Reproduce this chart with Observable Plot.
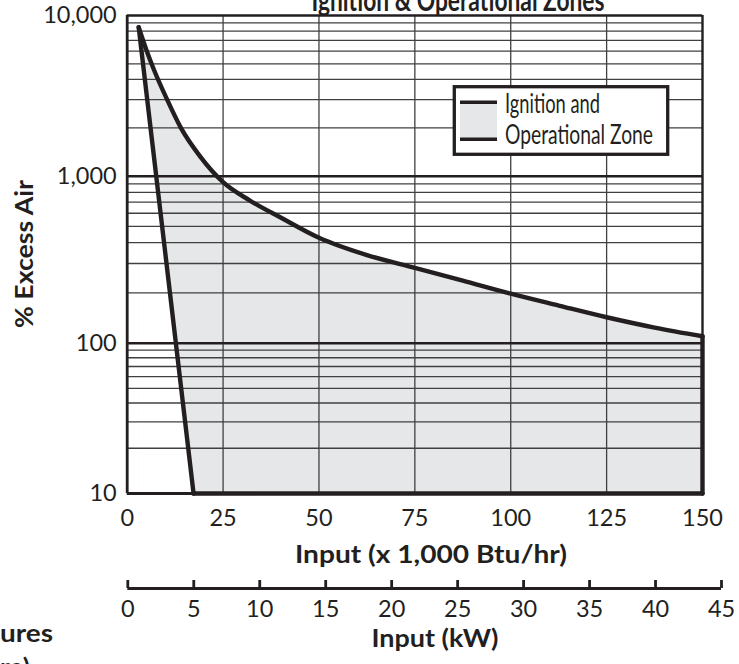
<!DOCTYPE html>
<html>
<head>
<meta charset="utf-8">
<script src="https://cdn.jsdelivr.net/npm/d3@7"></script>
<script src="https://cdn.jsdelivr.net/npm/@observablehq/plot@0.6"></script>
<style>
html, body { margin: 0; padding: 0; background: #fff; overflow: hidden; }
#wrap { position: relative; width: 739px; height: 664px; overflow: hidden; background: #fff; }
#wrap > svg { position: absolute; left: 0; }
</style>
</head>
<body>
<div id="wrap"></div>
<script>
// ---------- data ----------
const inputBtu  = [3, 5, 7, 10.4, 14, 19.1, 25, 32, 40, 50, 62.5, 75, 87.5, 100, 112.5, 125, 137.5, 150];
const excessAir = [8450, 6100, 4580, 3000, 2000, 1320, 921, 715, 566, 428, 337, 283, 237, 198, 168, 143, 124, 110];
const leftEdgeInput = [3, 17.3];
const leftEdgeAir   = [8450, 10];
const baseAir = 10;
const xTicks = [0, 25, 50, 75, 100, 125, 150];
const yTicks = [10, 100, 1000, 10000];
const xGrid = [25, 50, 75, 100, 125];
const yMajorGrid = [100, 1000];
const yMinorGrid = [20, 30, 40, 50, 60, 70, 80, 90,
                    200, 300, 400, 500, 600, 700, 800, 900,
                    2000, 3000, 4000, 5000, 6000, 7000, 8000, 9000];
const kwTicks = [0, 5, 10, 15, 20, 25, 30, 35, 40, 45];
const titleText = "Ignition & Operational Zones";
const yLabel = "% Excess Air";
const xLabel = "Input (x 1,000 Btu/hr)";
const kwLabel = "Input (kW)";
const legendLines = ["Ignition and", "Operational Zone"];
const cutTexts = ["ures", "re)"];

// ---------- styles ----------
const INK = "#231f20";
const FILL = "#e6e7e8";
const GRID = "#404040";
const FONT = "Lato, 'Open Sans', sans-serif";

const upper = inputBtu.map((x, i) => ({x, y: excessAir[i]}));
const left = leftEdgeInput.map((x, i) => ({x, y: leftEdgeAir[i]}));
const xMax = inputBtu[inputBtu.length - 1];
const bottomEdge = [{x: leftEdgeInput[1], y: baseAir}, {x: xMax, y: baseAir}];
const rightEdge = [{x: xMax, y: baseAir}, {x: xMax, y: excessAir[excessAir.length - 1]}];

const wrap = document.getElementById("wrap");

// ---------- main chart ----------
const H1 = 580;
const main = Plot.plot({
  width: 739,
  height: H1,
  marginLeft: 126.7,
  marginRight: 37,
  marginTop: 15,
  marginBottom: H1 - 493,
  x: {domain: [0, 150]},
  y: {type: "log", domain: [10, 100, 1000, 10000], range: [493, 342.7, 175.7, 15]},
  style: {fontFamily: FONT, fontSize: "23.5px", color: INK, background: "transparent", overflow: "visible"},
  marks: [
    Plot.areaY(upper, {x: "x", y1: () => baseAir, y2: "y", curve: "monotone-x", fill: FILL}),
    Plot.areaY(left, {x: "x", y1: () => baseAir, y2: "y", fill: "white"}),
    Plot.ruleY(yMinorGrid, {stroke: GRID, strokeWidth: 1.3}),
    Plot.ruleX(xGrid, {stroke: GRID, strokeWidth: 1.3}),
    Plot.ruleY(yMajorGrid, {stroke: INK, strokeWidth: 2.6}),
    Plot.ruleY([10000], {stroke: INK, strokeWidth: 2.6}),
    Plot.ruleY([10], {stroke: INK, strokeWidth: 2.8}),
    Plot.ruleX([0], {stroke: INK, strokeWidth: 2.8}),
    Plot.ruleX([150], {stroke: INK, strokeWidth: 2.4}),
    Plot.line(bottomEdge, {x: "x", y: "y", stroke: INK, strokeWidth: 4.4}),
    Plot.line(rightEdge, {x: "x", y: "y", stroke: INK, strokeWidth: 4.4}),
    Plot.line(left, {x: "x", y: "y", stroke: INK, strokeWidth: 4.4}),
    Plot.line(upper, {x: "x", y: "y", curve: "monotone-x", stroke: INK, strokeWidth: 4.4}),
    Plot.axisY({ticks: yTicks, tickFormat: d3.format(","), tickSize: 0, tickPadding: 10.5, label: null, fill: INK}),
    Plot.axisX({ticks: xTicks, tickSize: 0, tickPadding: 16, label: null, fill: INK})
  ]
});
main.style.top = "0px";
wrap.appendChild(main);

// ---------- kW axis ----------
const H2 = 80;
const kw = Plot.plot({
  width: 739,
  height: H2,
  marginLeft: 127.3,
  marginRight: 18,
  marginTop: 20,
  marginBottom: H2 - 28,
  x: {domain: [kwTicks[0], kwTicks[kwTicks.length - 1]]},
  y: {domain: [0, 1], range: [28, 20], axis: null},
  style: {fontFamily: FONT, fontSize: "23.5px", color: INK, background: "transparent", overflow: "visible"},
  marks: [
    Plot.ruleY([0], {x1: () => kwTicks[0], x2: () => kwTicks[kwTicks.length - 1], stroke: INK, strokeWidth: 2.8}),
    Plot.ruleX(kwTicks, {y1: () => 0, y2: () => 1, stroke: INK, strokeWidth: 2.8}),
    Plot.axisX({ticks: kwTicks, tickSize: 0, tickPadding: 12, label: null, fill: INK})
  ]
});
kw.style.top = "560px";
wrap.appendChild(kw);

// ---------- overlay texts & legend ----------
const ov = d3.create("svg")
  .attr("width", 739).attr("height", 664)
  .style("top", "0px")
  .style("font-family", FONT)
  .style("pointer-events", "none");

function txt(s, x, y, opts) {
  const t = ov.append("text").attr("x", x).attr("y", y)
    .attr("fill", INK)
    .attr("font-size", opts.size)
    .attr("font-weight", opts.weight || 400)
    .attr("text-anchor", opts.anchor || "start")
    .text(s);
  if (opts.len) t.attr("textLength", opts.len).attr("lengthAdjust", "spacingAndGlyphs");
  if (opts.rotate) t.attr("transform", `rotate(${opts.rotate},${x},${y})`);
  return t;
}

txt(titleText, 458, 10.5, {size: 30, weight: 700, anchor: "middle", len: 293});
txt(yLabel, 33, 254, {size: 25, weight: 700, anchor: "middle", len: 148, rotate: -90});
txt(xLabel, 431, 563, {size: 25, weight: 700, anchor: "middle", len: 272});
txt(kwLabel, 435, 647, {size: 25, weight: 700, anchor: "middle", len: 127});
txt(cutTexts[0], 53, 642, {size: 25, weight: 700, anchor: "end", len: 53});
txt(cutTexts[1], 30, 676, {size: 25, weight: 700, anchor: "end", len: 30});

// legend box
ov.append("rect").attr("x", 454.3).attr("y", 86.7).attr("width", 213.4).attr("height", 67.6)
  .attr("fill", "white").attr("stroke", INK).attr("stroke-width", 3.3);
ov.append("rect").attr("x", 460).attr("y", 102).attr("width", 37).attr("height", 37.5).attr("fill", FILL);
ov.append("line").attr("x1", 460).attr("x2", 497).attr("y1", 102.3).attr("y2", 102.3).attr("stroke", INK).attr("stroke-width", 3.6);
ov.append("line").attr("x1", 460).attr("x2", 497).attr("y1", 139.3).attr("y2", 139.3).attr("stroke", INK).attr("stroke-width", 3.6);
txt(legendLines[0], 505, 113.3, {size: 26, weight: 400, len: 95});
txt(legendLines[1], 505, 144, {size: 26, weight: 400, len: 148});

wrap.appendChild(ov.node());
</script>
</body>
</html>
